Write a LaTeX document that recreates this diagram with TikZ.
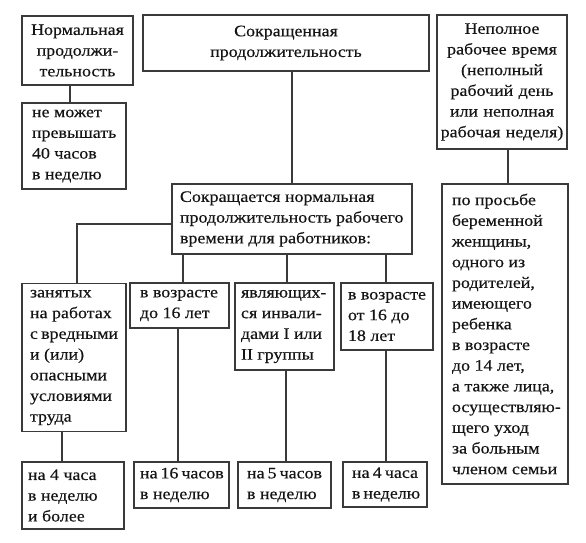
\documentclass[tikz,border=0pt]{standalone}
\usepackage{fontspec}
\setmainfont{Liberation Serif}[FakeStretch=1.12,FakeBold=0.4]
\newcommand\diagfont{\fontsize{16}{20.7}\selectfont}
\definecolor{linec}{HTML}{3A3A3A}
\definecolor{txt}{HTML}{151515}
\tikzset{
  bx/.style={draw=linec, line width=1.1pt, inner ysep=2pt, font=\diagfont, text=txt},
  lb/.style={bx, align=flush left},
  cb/.style={bx, align=center},
  conn/.style={draw=linec, line width=1.1pt}
}
\begin{document}
\begin{tikzpicture}[x=1pt,y=-1pt]
\useasboundingbox (0,0) rectangle (586,542);
\node[cb, minimum width=111pt, minimum height=69pt, inner xsep=2pt, text width=107pt] (A) at (77.5,50.5) {Нормальная\\\mbox{продолжи-}\\тельность};
\node[lb, minimum width=104pt, minimum height=86pt, inner xsep=10pt, text width=84pt] (B) at (74,146) {не~может\\превышать\\40~часов\\в~неделю};
\node[cb, minimum width=286pt, minimum height=56pt, inner xsep=8pt, text width=270pt] (C) at (286,43) {Сокращенная\\продолжительность};
\node[cb, minimum width=130pt, minimum height=134pt, inner xsep=2pt, text width=126pt] (D) at (502,82) {Неполное\\рабочее~время\\(неполный\\рабочий~день\\или~неполная\\рабочая~неделя)};
\node[lb, minimum width=126pt, minimum height=300pt, inner xsep=10pt, text width=106pt] (E) at (505,334) {по~просьбе\\беременной\\женщины,\\одного~из\\родителей,\\имеющего\\ребенка\\в~возрасте\\до~14~лет,\\а~также~лица,\\\mbox{осуществляю-}\\щего~уход\\за~больным\\членом~семьи};
\node[lb, minimum width=240pt, minimum height=70pt, inner xsep=8pt, text width=224pt] (F) at (292,219) {Сокращается~нормальная\\продолжительность~рабочего\\времени~для~работников:};
\node[lb, minimum width=104pt, minimum height=148pt, inner xsep=8pt, text width=88pt] (G1) at (74,357.5) {занятых\\на~работах\\с~вредными\\и~(или)\\опасными\\условиями\\труда};
\node[lb, minimum width=99pt, minimum height=45pt, inner xsep=10pt, text width=79pt] (G2) at (179.5,305.5) {в~возрасте\\до~16~лет};
\node[lb, minimum width=99pt, minimum height=87pt, inner xsep=6pt, text width=87pt] (G3) at (284.5,326.5) {\mbox{являющих-}\\\mbox{ся~инвали-}\\дами~I~или\\II~группы};
\node[lb, minimum width=92pt, minimum height=67pt, inner xsep=7pt, text width=78pt] (G4) at (387,316.5) {в~возрасте\\от~16~до\\18~лет};
\node[lb, minimum width=102pt, minimum height=67pt, inner xsep=6pt, text width=90pt] (H1) at (73,495.5) {на~4~часа\\в~неделю\\и~более};
\node[lb, minimum width=95pt, minimum height=46pt, inner xsep=6pt, text width=83pt] (H2) at (181.5,485) {на~16~часов\\в~неделю};
\node[lb, minimum width=93pt, minimum height=46pt, inner xsep=9pt, text width=75pt] (H3) at (284.5,485) {на~5~часов\\в~неделю};
\node[lb, minimum width=84pt, minimum height=45pt, inner xsep=9pt, text width=66pt] (H4) at (385,484.5) {на~4~часа\\в~неделю};
% connectors
\draw[conn] ([xshift=-4pt]B.north) -- ([xshift=-4pt]B.north |- A.south);
\draw[conn] (F.north) -- (F.north |- C.south);
\draw[conn] ([xshift=3pt]E.north) -- ([xshift=3pt]E.north |- D.south);
\draw[conn] ([yshift=-5pt]F.west) -| ([xshift=3pt]G1.north);
\draw[conn] ([xshift=3.5pt]G2.north) -- ([xshift=3.5pt]G2.north |- F.south);
\draw[conn] ([xshift=2.5pt]G3.north) -- ([xshift=2.5pt]G3.north |- F.south);
\draw[conn] ([xshift=-1pt]G4.north) -- ([xshift=-1pt]G4.north |- F.south);
\draw[conn] ([xshift=-11pt]H1.north) -- ([xshift=-11pt]H1.north |- G1.south);
\draw[conn] ([xshift=-3.5pt]H2.north) -- ([xshift=-3.5pt]H2.north |- G2.south);
\draw[conn] ([xshift=1.5pt]H3.north) -- ([xshift=1.5pt]H3.north |- G3.south);
\draw[conn] ([xshift=1pt]H4.north) -- ([xshift=1pt]H4.north |- G4.south);
\end{tikzpicture}
\end{document}
